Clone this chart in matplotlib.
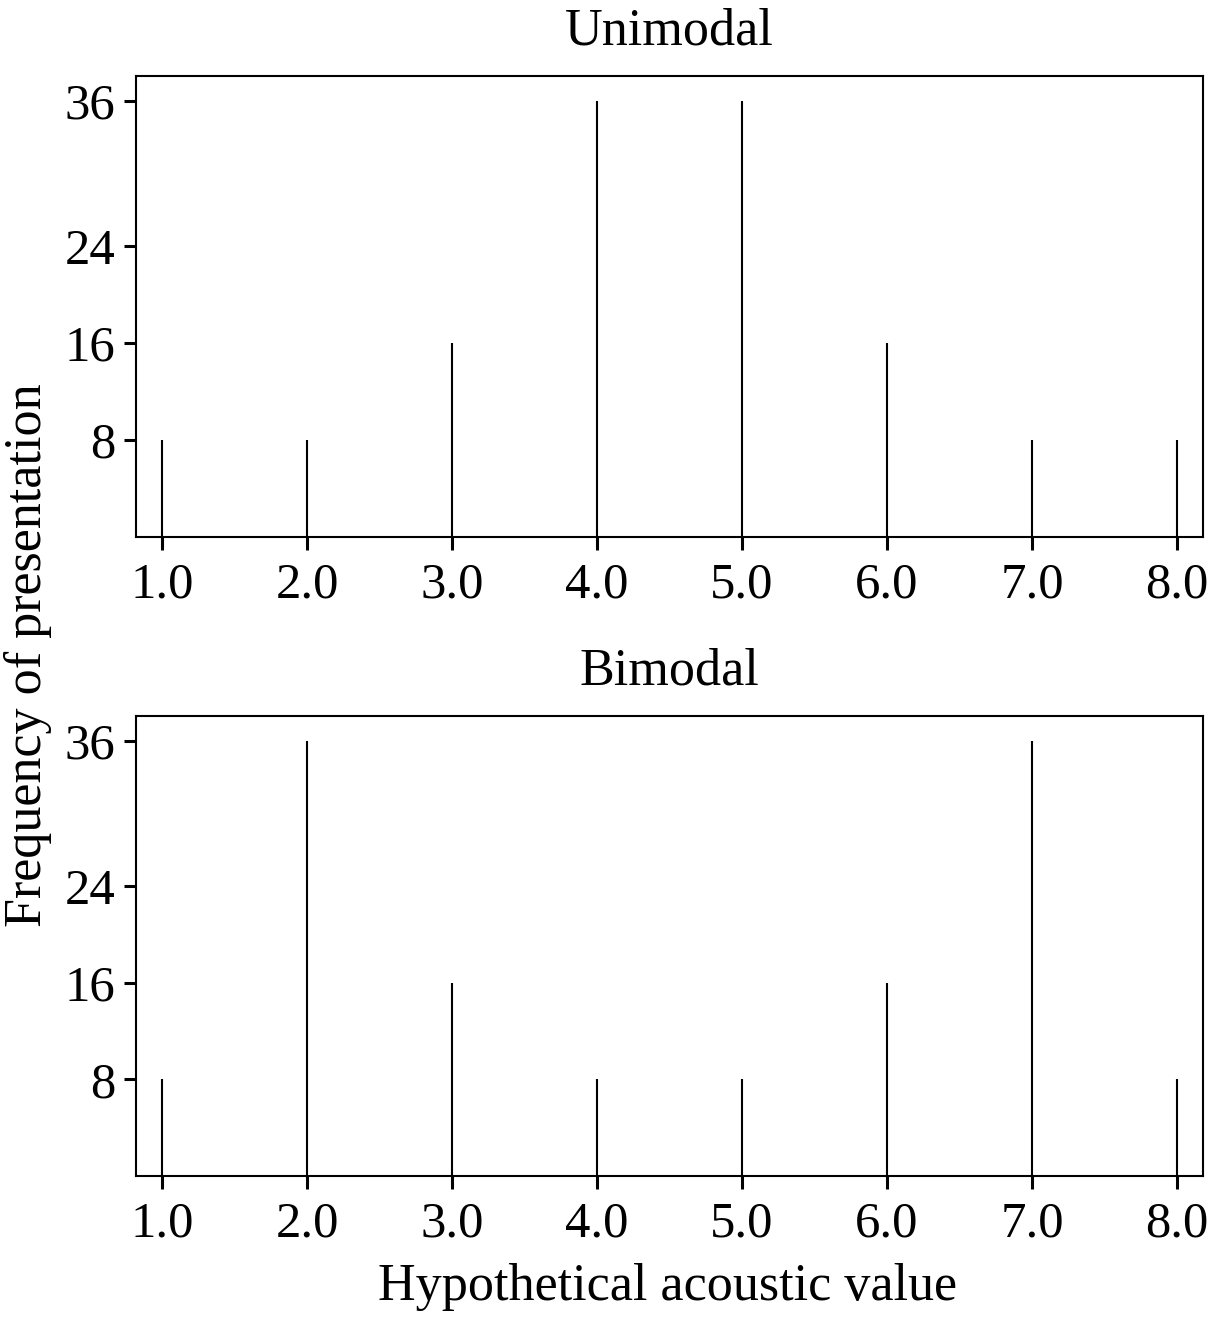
import matplotlib
matplotlib.use('Agg')
import matplotlib.pyplot as plt

# Hypothetical acoustic values and presentation frequencies
values = [1.0, 2.0, 3.0, 4.0, 5.0, 6.0, 7.0, 8.0]
unimodal = [8, 8, 16, 36, 36, 16, 8, 8]
bimodal = [8, 36, 16, 8, 8, 16, 36, 8]
yticks = [8, 16, 24, 36]
xticklabels = ['1.0', '2.0', '3.0', '4.0', '5.0', '6.0', '7.0', '8.0']

plt.rcParams['font.family'] = ['Liberation Serif', 'DejaVu Serif']

fig = plt.figure(figsize=(12.13, 13.2), dpi=100)
W, H = 1213, 1320
# axes boxes in pixels: left, top, right, bottom
boxes = [(136, 76, 1203, 537), (136, 716, 1203, 1176)]
titles = ['Unimodal', 'Bimodal']
series = [unimodal, bimodal]

for (l, t, r, b), title, data in zip(boxes, titles, series):
    ax = fig.add_axes([l / W, 1 - b / H, (r - l) / W, (b - t) / H])
    ax.vlines(values, 0, data, color='black', linewidth=1.5)
    ax.set_xlim(0.82, 8.18)
    ax.set_ylim(0, 38.06)
    ax.set_xticks(values)
    ax.set_xticklabels(xticklabels)
    ax.set_yticks(yticks)
    ax.tick_params(axis='both', labelsize=36.5, length=9, width=2.2, direction='out')
    ax.tick_params(axis='x', pad=9)
    ax.tick_params(axis='y', pad=6)
    for spine in ax.spines.values():
        spine.set_linewidth(1.5)
    ax.set_title(title, fontsize=37.5, pad=23)

fig.text(28 / W, 1 - 655 / H, 'Frequency of presentation', rotation=90, fontsize=37.5,
         ha='center', va='center')
fig.text(668 / W, 1 - 1287 / H, 'Hypothetical acoustic value', fontsize=37.5,
         ha='center', va='center')

plt.savefig('out.png', dpi=100)
